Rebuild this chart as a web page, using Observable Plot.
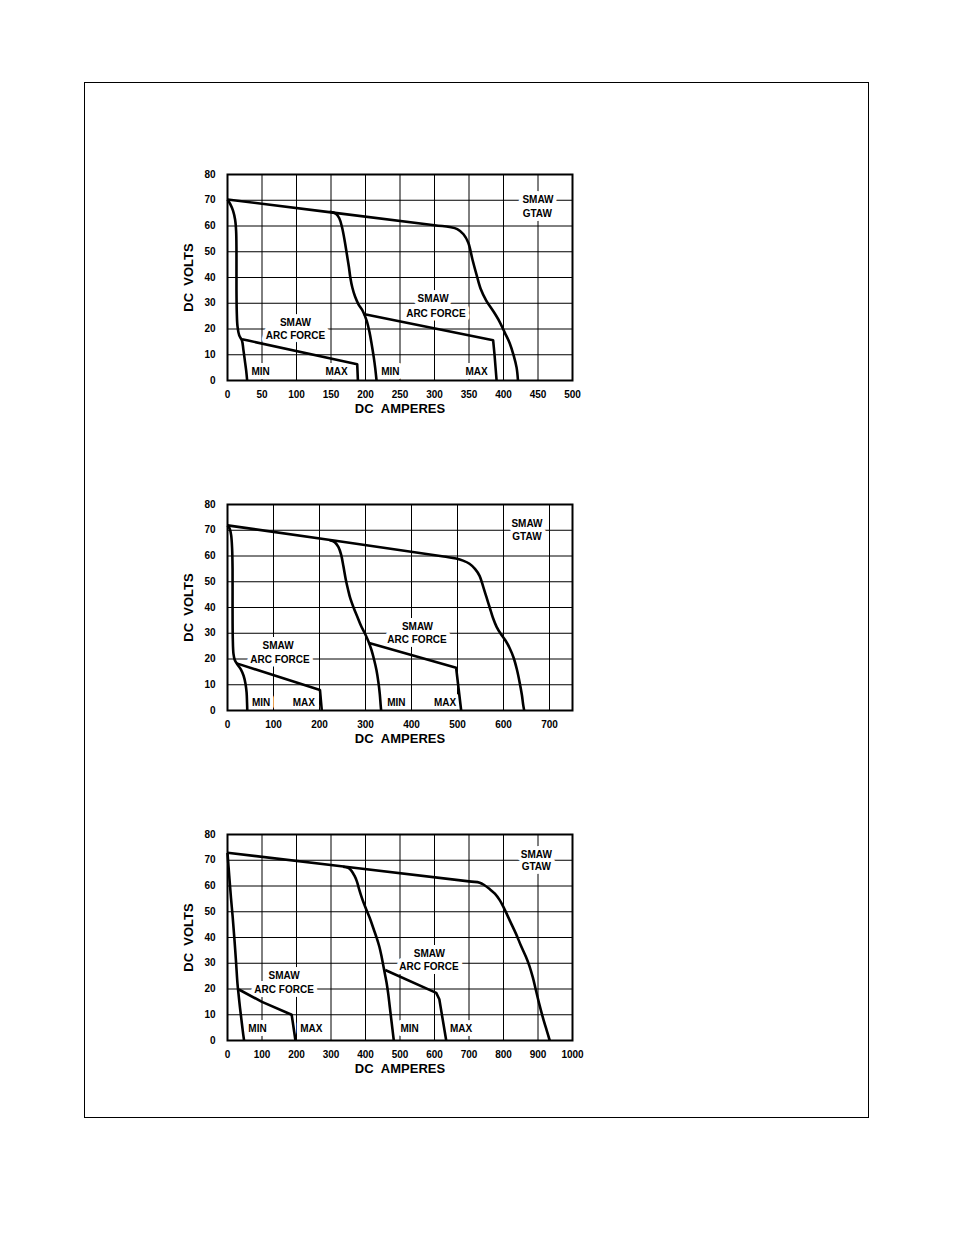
<!DOCTYPE html>
<html>
<head>
<meta charset="utf-8">
<script src="https://cdn.jsdelivr.net/npm/d3@7"></script>
<script src="https://cdn.jsdelivr.net/npm/@observablehq/plot@0.6"></script>
<style>
  html, body { margin: 0; padding: 0; background: #fff; }
  #page { position: relative; width: 954px; height: 1235px; background: #fff; }
  #border { position: absolute; left: 84px; top: 82px; width: 785px; height: 1036px; border: 1px solid #000; box-sizing: border-box; }
  .chart { position: absolute; left: 130px; }
</style>
</head>
<body>
<div id="page">
  <div id="border"></div>
  <div id="c1" class="chart" style="top:160px"></div>
  <div id="c2" class="chart" style="top:490px"></div>
  <div id="c3" class="chart" style="top:820px"></div>
</div>
<script>
// ---------- shared ----------
const voltTicks = [0, 10, 20, 30, 40, 50, 60, 70, 80];
const xTitle = "DC\u00a0\u00a0AMPERES";
const yTitle = "DC\u00a0\u00a0VOLTS";

// ---------- chart 1 (0–500 A) ----------
const c1AmpTicks = [0, 50, 100, 150, 200, 250, 300, 350, 400, 450, 500];
const c1MaxCurve = [[0,70.3],[300,60.3],[322,59.6],[333,58.8],[342,56.8],[349,53.5],[355,47],[361,41],[367,35.5],[375,31],[385,27],[394,23],[402,18.5],[409,14.5],[415,9.5],[419,5],[421,0]];
const c1MidCurve = [[148,65.5],[157,64.8],[162,63],[166,59.5],[170,54],[173,49],[176,44],[178,40],[181,36],[185,32.5],[190,29.5],[196,27],[202,23],[206,18.5],[209,14],[212,9],[214,5],[216,0]];
const c1MinCurve = [[0,70.3],[4,68.5],[8,66],[11,62.5],[12.5,58],[13,50],[13,35],[13.5,26],[14.5,21],[17,17.5],[21,15.5],[23,12],[25,8],[27,4],[28.5,0]];
const c1ArcLow = [[21,16],[30,15.5],[188,6.3],[189,0]];
const c1ArcHigh = [[197,25.8],[385,15.6],[387,10],[390,0]];
const c1Labels = [
  {x:450, y:70.2, t:"SMAW"}, {x:449, y:64.7, t:"GTAW"},
  {x:98.5, y:22.4, t:"SMAW"}, {x:98.5, y:17.2, t:"ARC FORCE"},
  {x:298, y:31.7, t:"SMAW"}, {x:302, y:25.9, t:"ARC FORCE"},
  {x:48, y:3.2, t:"MIN"}, {x:158, y:3.2, t:"MAX"},
  {x:236, y:3.2, t:"MIN"}, {x:361, y:3.2, t:"MAX"}
];

// ---------- chart 2 (0–750 A) ----------
const c2AmpTicks = [0, 100, 200, 300, 400, 500, 600, 700];
const c2MaxCurve = [[0,71.9],[470,59.8],[497,59],[512,58.2],[526,57],[538,55],[548,52.3],[556,48],[563,44],[570,40],[577,36],[585,32.5],[595,29.5],[605,27],[614,24],[622,20.5],[629,16],[635,11],[640,6],[643,2],[645,0]];
const c2MidCurve = [[222,66.1],[233,65.4],[241,63.5],[247,60.5],[252,56],[257,51],[262,47],[267,43.5],[274,40],[282,36.5],[290,33],[299,29.8],[306,27],[313,23.5],[319,19.5],[324,15.5],[328,11],[331,6.5],[333,2],[334,0]];
const c2MinCurve = [[0,71.9],[5,70.5],[8,68],[10,63],[11,55],[11,40],[11.5,28],[13,22],[16,19.5],[22,17.8],[29,16],[35,13.5],[39,10.5],[41.5,7],[42.5,3],[43,0]];
const c2ArcLow = [[20,18.3],[201,8],[205,0]];
const c2ArcHigh = [[306,26.3],[497,16.6],[508,0]];
const c2Labels = [
  {x:651, y:72.5, t:"SMAW"}, {x:651, y:67.4, t:"GTAW"},
  {x:110, y:25.2, t:"SMAW"}, {x:114, y:19.6, t:"ARC FORCE"},
  {x:413, y:32.5, t:"SMAW"}, {x:412, y:27.4, t:"ARC FORCE"},
  {x:73, y:3.1, t:"MIN"}, {x:166, y:3.1, t:"MAX"},
  {x:367, y:3.1, t:"MIN"}, {x:473, y:3.1, t:"MAX"}
];

// ---------- chart 3 (0–1000 A) ----------
const c3AmpTicks = [0, 100, 200, 300, 400, 500, 600, 700, 800, 900, 1000];
const c3MaxCurve = [[0,72.9],[700,61.8],[731,61.3],[745,60.3],[760,58.8],[775,57],[789,54.5],[800,51.8],[810,49],[822,45.5],[836,41.5],[850,37],[865,32.5],[875,29],[885,24.5],[894,19.5],[903,14.5],[914,9],[925,4],[934,0]];
const c3MidCurve = [[335,67.5],[350,67],[360,65.8],[368,64],[375,61.8],[381,59],[388,56],[396,53],[405,50],[414,47],[423,43.5],[432,40],[440,36.5],[446,33],[451,29.5],[456,26],[461,22.5],[466,18],[470,13.5],[474,9],[478,4.5],[482,0]];
const c3MinCurve = [[0,72.9],[5,64],[10,55.5],[15,48],[20,39.5],[25,30],[29,22],[32,18],[36,13],[40,8.5],[44,4],[48,0]];
const c3ArcLow = [[33,19.8],[100,15],[186,10],[197,0]];
const c3ArcHigh = [[457,27.4],[605,18.5],[614,16],[634,0]];
const c3Labels = [
  {x:895, y:72.1, t:"SMAW"}, {x:895, y:67.4, t:"GTAW"},
  {x:164, y:25, t:"SMAW"}, {x:164, y:19.6, t:"ARC FORCE"},
  {x:585, y:33.8, t:"SMAW"}, {x:584, y:28.6, t:"ARC FORCE"},
  {x:87, y:4.4, t:"MIN"}, {x:243, y:4.4, t:"MAX"},
  {x:528, y:4.4, t:"MIN"}, {x:677, y:4.4, t:"MAX"}
];

function makeChart(xMax, ampTicks, smooth, straight, labels) {
  const lineOpts = {x: d => d[0], y: d => d[1], stroke: "#000", strokeWidth: 2.6, strokeLinejoin: "round", strokeLinecap: "butt"};
  return Plot.plot({
    width: 500, height: 265,
    marginLeft: 97, marginRight: 58, marginTop: 14, marginBottom: 45,
    x: {domain: [0, xMax]},
    y: {domain: [0, 80]},
    style: {fontFamily: "'Liberation Sans', Arial, Helvetica, sans-serif", fontSize: "10px", fontWeight: "bold", color: "#000", background: "transparent", overflow: "visible"},
    marks: [
      Plot.gridX(ampTicks, {stroke: "#000", strokeOpacity: 1, strokeWidth: 1}),
      Plot.gridY(voltTicks, {stroke: "#000", strokeOpacity: 1, strokeWidth: 1}),
      Plot.axisX(ampTicks, {tickSize: 0, tickPadding: 10, label: null, tickFormat: d => String(d), fontSize: 10, fontWeight: "bold"}),
      Plot.axisY(voltTicks, {tickSize: 0, tickPadding: 12, label: null, tickFormat: d => String(d), fontSize: 10, fontWeight: "bold"}),
      Plot.text(labels, {x: "x", y: "y", text: "t", fill: "#000", stroke: "#fff", strokeWidth: 8, fontSize: 10, fontWeight: "bold"}),
      Plot.frame({stroke: "#000", strokeWidth: 2}),
      ...smooth.map(c => Plot.line(c, {...lineOpts, curve: "catmull-rom"})),
      ...straight.map(c => Plot.line(c, {...lineOpts, curve: "linear"})),
      Plot.text([yTitle], {text: d => d, frameAnchor: "left", dx: -39, rotate: -90, textAnchor: "middle", lineAnchor: "middle", fontSize: 13, fontWeight: "bold", fill: "#000"}),
      Plot.text([xTitle], {text: d => d, frameAnchor: "bottom", dy: 28, textAnchor: "middle", lineAnchor: "middle", fontSize: 13, fontWeight: "bold", fill: "#000"})
    ]
  });
}

document.getElementById("c1").append(makeChart(500, c1AmpTicks, [c1MaxCurve, c1MidCurve, c1MinCurve], [c1ArcLow, c1ArcHigh], c1Labels));
document.getElementById("c2").append(makeChart(750, c2AmpTicks, [c2MaxCurve, c2MidCurve, c2MinCurve], [c2ArcLow, c2ArcHigh], c2Labels));
document.getElementById("c3").append(makeChart(1000, c3AmpTicks, [c3MaxCurve, c3MidCurve, c3MinCurve], [c3ArcLow, c3ArcHigh], c3Labels));
</script>
</body>
</html>
